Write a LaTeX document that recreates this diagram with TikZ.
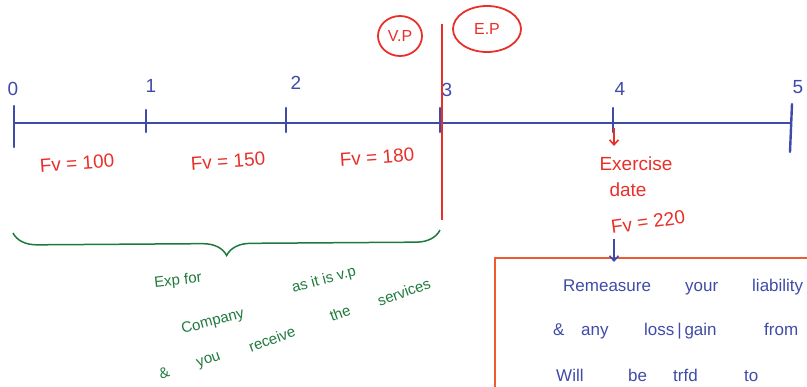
\documentclass[tikz,border=0pt]{standalone}
\usepackage{fontspec}
\setmainfont{Liberation Sans}
\usetikzlibrary{decorations.pathreplacing,arrows.meta,shapes.geometric}
\definecolor{penblue}{HTML}{3F4BA8}
\definecolor{penred}{HTML}{E8302A}
\definecolor{pengreen}{HTML}{1E7A3C}
\definecolor{boxorange}{HTML}{F05A30}
\tikzset{
  axisline/.style={penblue, line width=2.2pt},
  tickmark/.style={penblue, line width=2.4pt, line cap=round},
  ticklabel/.style={text=penblue, font=\fontsize{19}{19}\selectfont, inner sep=0pt},
  redtext/.style={text=penred, font=\fontsize{19}{22}\selectfont, inner sep=0pt, align=center},
  greentext/.style={text=pengreen, font=\fontsize{15}{17}\selectfont, inner sep=0pt},
  bluetext/.style={text=penblue, font=\fontsize{17}{19}\selectfont, inner sep=0pt, anchor=base west},
  ringlabel/.style={ellipse, draw=penred, line width=1.8pt, text=penred, font=\fontsize{16}{16}\selectfont, inner sep=0pt},
  redarrow/.style={penred, line width=1.6pt, -{Straight Barb[length=5pt,width=9pt]}},
  bluearrow/.style={penblue, line width=1.6pt, -{Straight Barb[length=5pt,width=9pt]}},
}
\begin{document}
\begin{tikzpicture}[x=1pt,y=-1pt]
\useasboundingbox (0,0) rectangle (807,387);
\clip (0,0) rectangle (807,387);
% timeline
\coordinate (t0) at (14,123);
\coordinate (t5) at (792,123);
\draw[axisline] (t0) -- (t5);
\draw[tickmark] (14,106) -- (14,147);
\draw[tickmark] (146,110) -- (146,132);
\draw[tickmark] (286,108) -- (286,132);
\draw[tickmark] (440,108) -- (440,132);
\draw[tickmark] (613,108) -- (613,132);
\draw[tickmark] (792,104) -- (790,152);
\node[ticklabel] (l0) at (13,89) {0};
\node[ticklabel] (l1) at (151,86) {1};
\node[ticklabel] (l2) at (296,83) {2};
\node[ticklabel] (l3) at (447,90) {3};
\node[ticklabel] (l4) at (620,89) {4};
\node[ticklabel] (l5) at (798,87) {5};
% red vertical line
\coordinate (vtop) at (442,24);
\coordinate (vbot) at (442,220);
\draw[penred, line width=2pt] (vtop) -- (vbot);
% circled labels
\node[ringlabel, minimum width=44pt, minimum height=40pt] (vp) at (400,36) {V.P};
\node[ringlabel, minimum width=68pt, minimum height=46pt] (ep) at (487,29) {E.P};
% fair values
\node[redtext, rotate=4] (fv1) at (77,163) {Fv = 100};
\node[redtext, rotate=4] (fv2) at (228,161) {Fv = 150};
\node[redtext, rotate=4] (fv3) at (377,157) {Fv = 180};
% exercise date
\coordinate (a4) at (614,128);
\node[redtext] (ex) at (636,164) {Exercise};
\node[redtext] (dt) at (628,190) {date};
\node[redtext, rotate=8] (fv4) at (648,222) {Fv = 220};
\draw[redarrow] (a4) -- (614,146);
% box
\draw[boxorange, line width=2.2pt] (495,400) -- (495,258) -- (820,258);
\coordinate (btop) at (614,239);
\coordinate (bin) at (614,262);
\draw[bluearrow] (btop) -- (bin);
\node[bluetext] (r1a) at (563,292) {Remeasure};
\node[bluetext] (r1b) at (685,292) {your};
\node[bluetext] (r1c) at (752,292) {liability};
\node[bluetext] (r2a) at (553,336) {\&};
\node[bluetext] (r2b) at (581,336) {any};
\node[bluetext] (r2c) at (644,336) {loss\,|\,gain};
\node[bluetext] (r2d) at (764,336) {from};
\node[bluetext] (r3a) at (556,382) {Will};
\node[bluetext] (r3b) at (628,382) {be};
\node[bluetext] (r3c) at (673,382) {trfd};
\node[bluetext] (r3d) at (744,382) {to};
% brace
\coordinate (bl) at (13,233);
\coordinate (br) at (440,230);
\draw[pengreen, line width=1.5pt, decorate, decoration={brace, amplitude=24pt, mirror, aspect=0.5}] (bl) -- (br);
% green annotation
\node[greentext, rotate=6] (g1) at (178,281) {Exp for};
\node[greentext, rotate=15] (g2a) at (213,322) {Company};
\node[greentext, rotate=15] (g2b) at (324,280) {as it is v.p};
\node[greentext, rotate=20] (g3a) at (164,373) {\&};
\node[greentext, rotate=20] (g3b) at (209,361) {you};
\node[greentext, rotate=20] (g3c) at (272,339) {receive};
\node[greentext, rotate=20] (g3d) at (340,313) {the};
\node[greentext, rotate=20] (g3e) at (404,292) {services};
\end{tikzpicture}
\end{document}
